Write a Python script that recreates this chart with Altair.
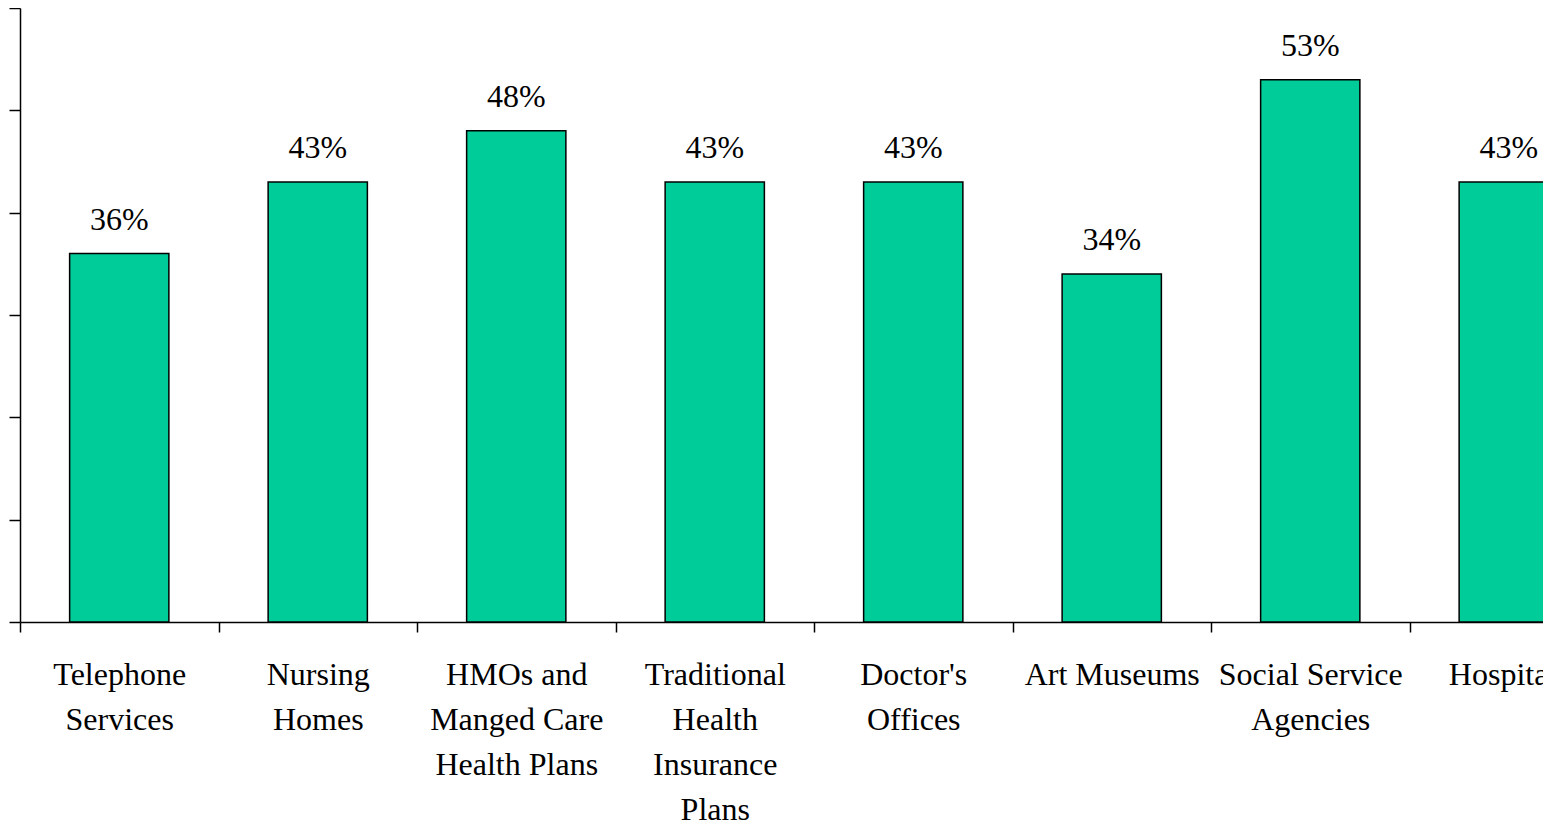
import altair as alt
import pandas as pd

categories = [
    "Telephone\nServices",
    "Nursing\nHomes",
    "HMOs and\nManged Care\nHealth Plans",
    "Traditional\nHealth\nInsurance\nPlans",
    "Doctor's\nOffices",
    "Art Museums",
    "Social Service\nAgencies",
    "Hospitals",
]
values = [36, 43, 48, 43, 43, 34, 53, 43]
value_labels = ["36%", "43%", "48%", "43%", "43%", "34%", "53%", "43%"]
y_ticks = [0, 10, 20, 30, 40, 50, 60]

df = pd.DataFrame({"cat": categories, "val": values, "lab": value_labels})

FONT = "Times New Roman, Liberation Serif, Times, serif"

x_enc = alt.X(
    "cat:N",
    sort=categories,
    scale=alt.Scale(range=[0, 1588], paddingInner=0, paddingOuter=0),
    axis=alt.Axis(
        title=None,
        labelAngle=0,
        labelFont=FONT,
        labelFontSize=32,
        labelColor="black",
        labelLineHeight=45,
        labelPadding=27,
        labelLimit=0,
        labelExpr="split(datum.label, '\\n')",
        tickBand="extent",
        tickSize=10,
        tickColor="black",
        tickWidth=1.5,
        domainColor="black",
        domainWidth=1.5,
        labelBaseline="top",
    ),
)
y_enc = alt.Y(
    "val:Q",
    scale=alt.Scale(domain=[0, 60]),
    axis=alt.Axis(
        title=None,
        labels=False,
        grid=False,
        values=y_ticks,
        tickSize=11,
        tickColor="black",
        tickWidth=1.5,
        domainColor="black",
        domainWidth=1.5,
    ),
)

base = alt.Chart(df)
bars = base.mark_bar(
    width=alt.RelativeBandSize(0.5),
    color="#00CC99",
    stroke="black",
    strokeWidth=1.5,
).encode(x=x_enc, y=y_enc)

texts = base.mark_text(
    dy=-24,
    baseline="alphabetic",
    font=FONT,
    fontSize=32,
    color="black",
).encode(x=alt.X("cat:N", sort=categories), y=alt.Y("val:Q"), text="lab:N")

chart = (
    alt.layer(bars, texts)
    .properties(
        width=1523,
        height=614,
        autosize=alt.AutoSizeParams(type="none"),
        padding={"left": 12, "top": 0, "right": 0, "bottom": 212},
    )
    .configure_view(stroke=None)
)

chart.save("out.html", embed_options={"renderer": "svg", "actions": False})
